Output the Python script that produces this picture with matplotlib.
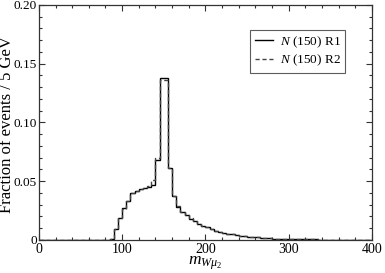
import matplotlib
matplotlib.use("Agg")
import matplotlib.pyplot as plt
import numpy as np
from matplotlib.ticker import MultipleLocator, FixedFormatter, FixedLocator

plt.rcParams["font.family"] = ["Liberation Serif", "DejaVu Serif"]
plt.rcParams["mathtext.fontset"] = "custom"
plt.rcParams["mathtext.rm"] = "Liberation Serif"
plt.rcParams["mathtext.it"] = "Liberation Serif:italic"

# 5 GeV bins from 80 to 350 GeV (zero elsewhere)
bin_width = 5
first_edge = 80
r1 = [0.0, 0.001, 0.009, 0.019, 0.027, 0.033, 0.040, 0.042, 0.043, 0.044,
      0.045, 0.047, 0.068, 0.138, 0.138, 0.061, 0.037, 0.028, 0.024, 0.021,
      0.018, 0.016, 0.014, 0.012, 0.011, 0.009, 0.008, 0.007, 0.006, 0.0055,
      0.005, 0.0042, 0.0036, 0.0032, 0.0028, 0.0024, 0.0021, 0.0018, 0.0016,
      0.0014, 0.0012, 0.0011, 0.0010, 0.0009, 0.0008, 0.0007, 0.0006, 0.0005,
      0.0005, 0.0004, 0.0004, 0.0003, 0.0003, 0.0002]
r2 = [0.0, 0.001, 0.009, 0.019, 0.026, 0.033, 0.040, 0.042, 0.043, 0.044,
      0.046, 0.051, 0.070, 0.136, 0.136, 0.061, 0.037, 0.029, 0.024, 0.021,
      0.019, 0.016, 0.014, 0.012, 0.011, 0.009, 0.008, 0.007, 0.006, 0.0055,
      0.005, 0.0042, 0.0036, 0.0032, 0.0028, 0.0024, 0.0021, 0.0018, 0.0016,
      0.0014, 0.0012, 0.0011, 0.0010, 0.0009, 0.0008, 0.0007, 0.0006, 0.0005,
      0.0005, 0.0004, 0.0004, 0.0003, 0.0003, 0.0002]
labels = [r"$N$ (150) R1", r"$N$ (150) R2"]

edges = np.arange(0, 400 + bin_width, bin_width)
def full(vals):
    h = np.zeros(len(edges) - 1)
    i0 = first_edge // bin_width
    h[i0:i0 + len(vals)] = vals
    return h

fig = plt.figure(figsize=(3.85, 2.73), dpi=100)
ax = fig.add_axes([0.101, 0.121, 0.865, 0.861])

ax.stairs(full(r1), edges, color="black", lw=1.0, label=labels[0])
ax.stairs(full(r2), edges, color="#444444", lw=1.0, ls=(0, (3, 2)), label=labels[1])

ax.set_xlim(0, 400)
ax.set_ylim(0, 0.20)
ax.xaxis.set_major_locator(MultipleLocator(100))
ax.xaxis.set_minor_locator(MultipleLocator(20))
ax.yaxis.set_major_locator(FixedLocator([0, 0.05, 0.10, 0.15, 0.20]))
ax.yaxis.set_major_formatter(FixedFormatter(["0", "0.05", "0.10", "0.15", "0.20"]))
ax.yaxis.set_minor_locator(MultipleLocator(0.01))
ax.tick_params(which="both", direction="in", top=True, right=True,
               color="#333333", width=0.8, pad=2)
ax.tick_params(axis="x", labelsize=10)
ax.tick_params(axis="y", labelsize=9.5, pad=1.5)
ax.tick_params(which="major", length=4)
ax.tick_params(which="minor", length=2)
for s in ax.spines.values():
    s.set_linewidth(0.9)
    s.set_color("#333333")

ax.set_ylabel("Fraction of events / 5 GeV", fontsize=12)
ax.yaxis.set_label_coords(-0.072, 0.49)
ax.set_xlabel(r"$m_{W\mu_2}$", fontsize=12.5, labelpad=-1)

leg = ax.legend(loc="upper right", bbox_to_anchor=(0.92, 0.895), fontsize=9.5,
                frameon=True, fancybox=False, handlelength=1.4, borderpad=0.35,
                labelspacing=0.25, handletextpad=0.5, borderaxespad=0)
leg.get_frame().set_edgecolor("#333333")
leg.get_frame().set_linewidth(0.8)

fig.savefig("out.png", dpi=100)
